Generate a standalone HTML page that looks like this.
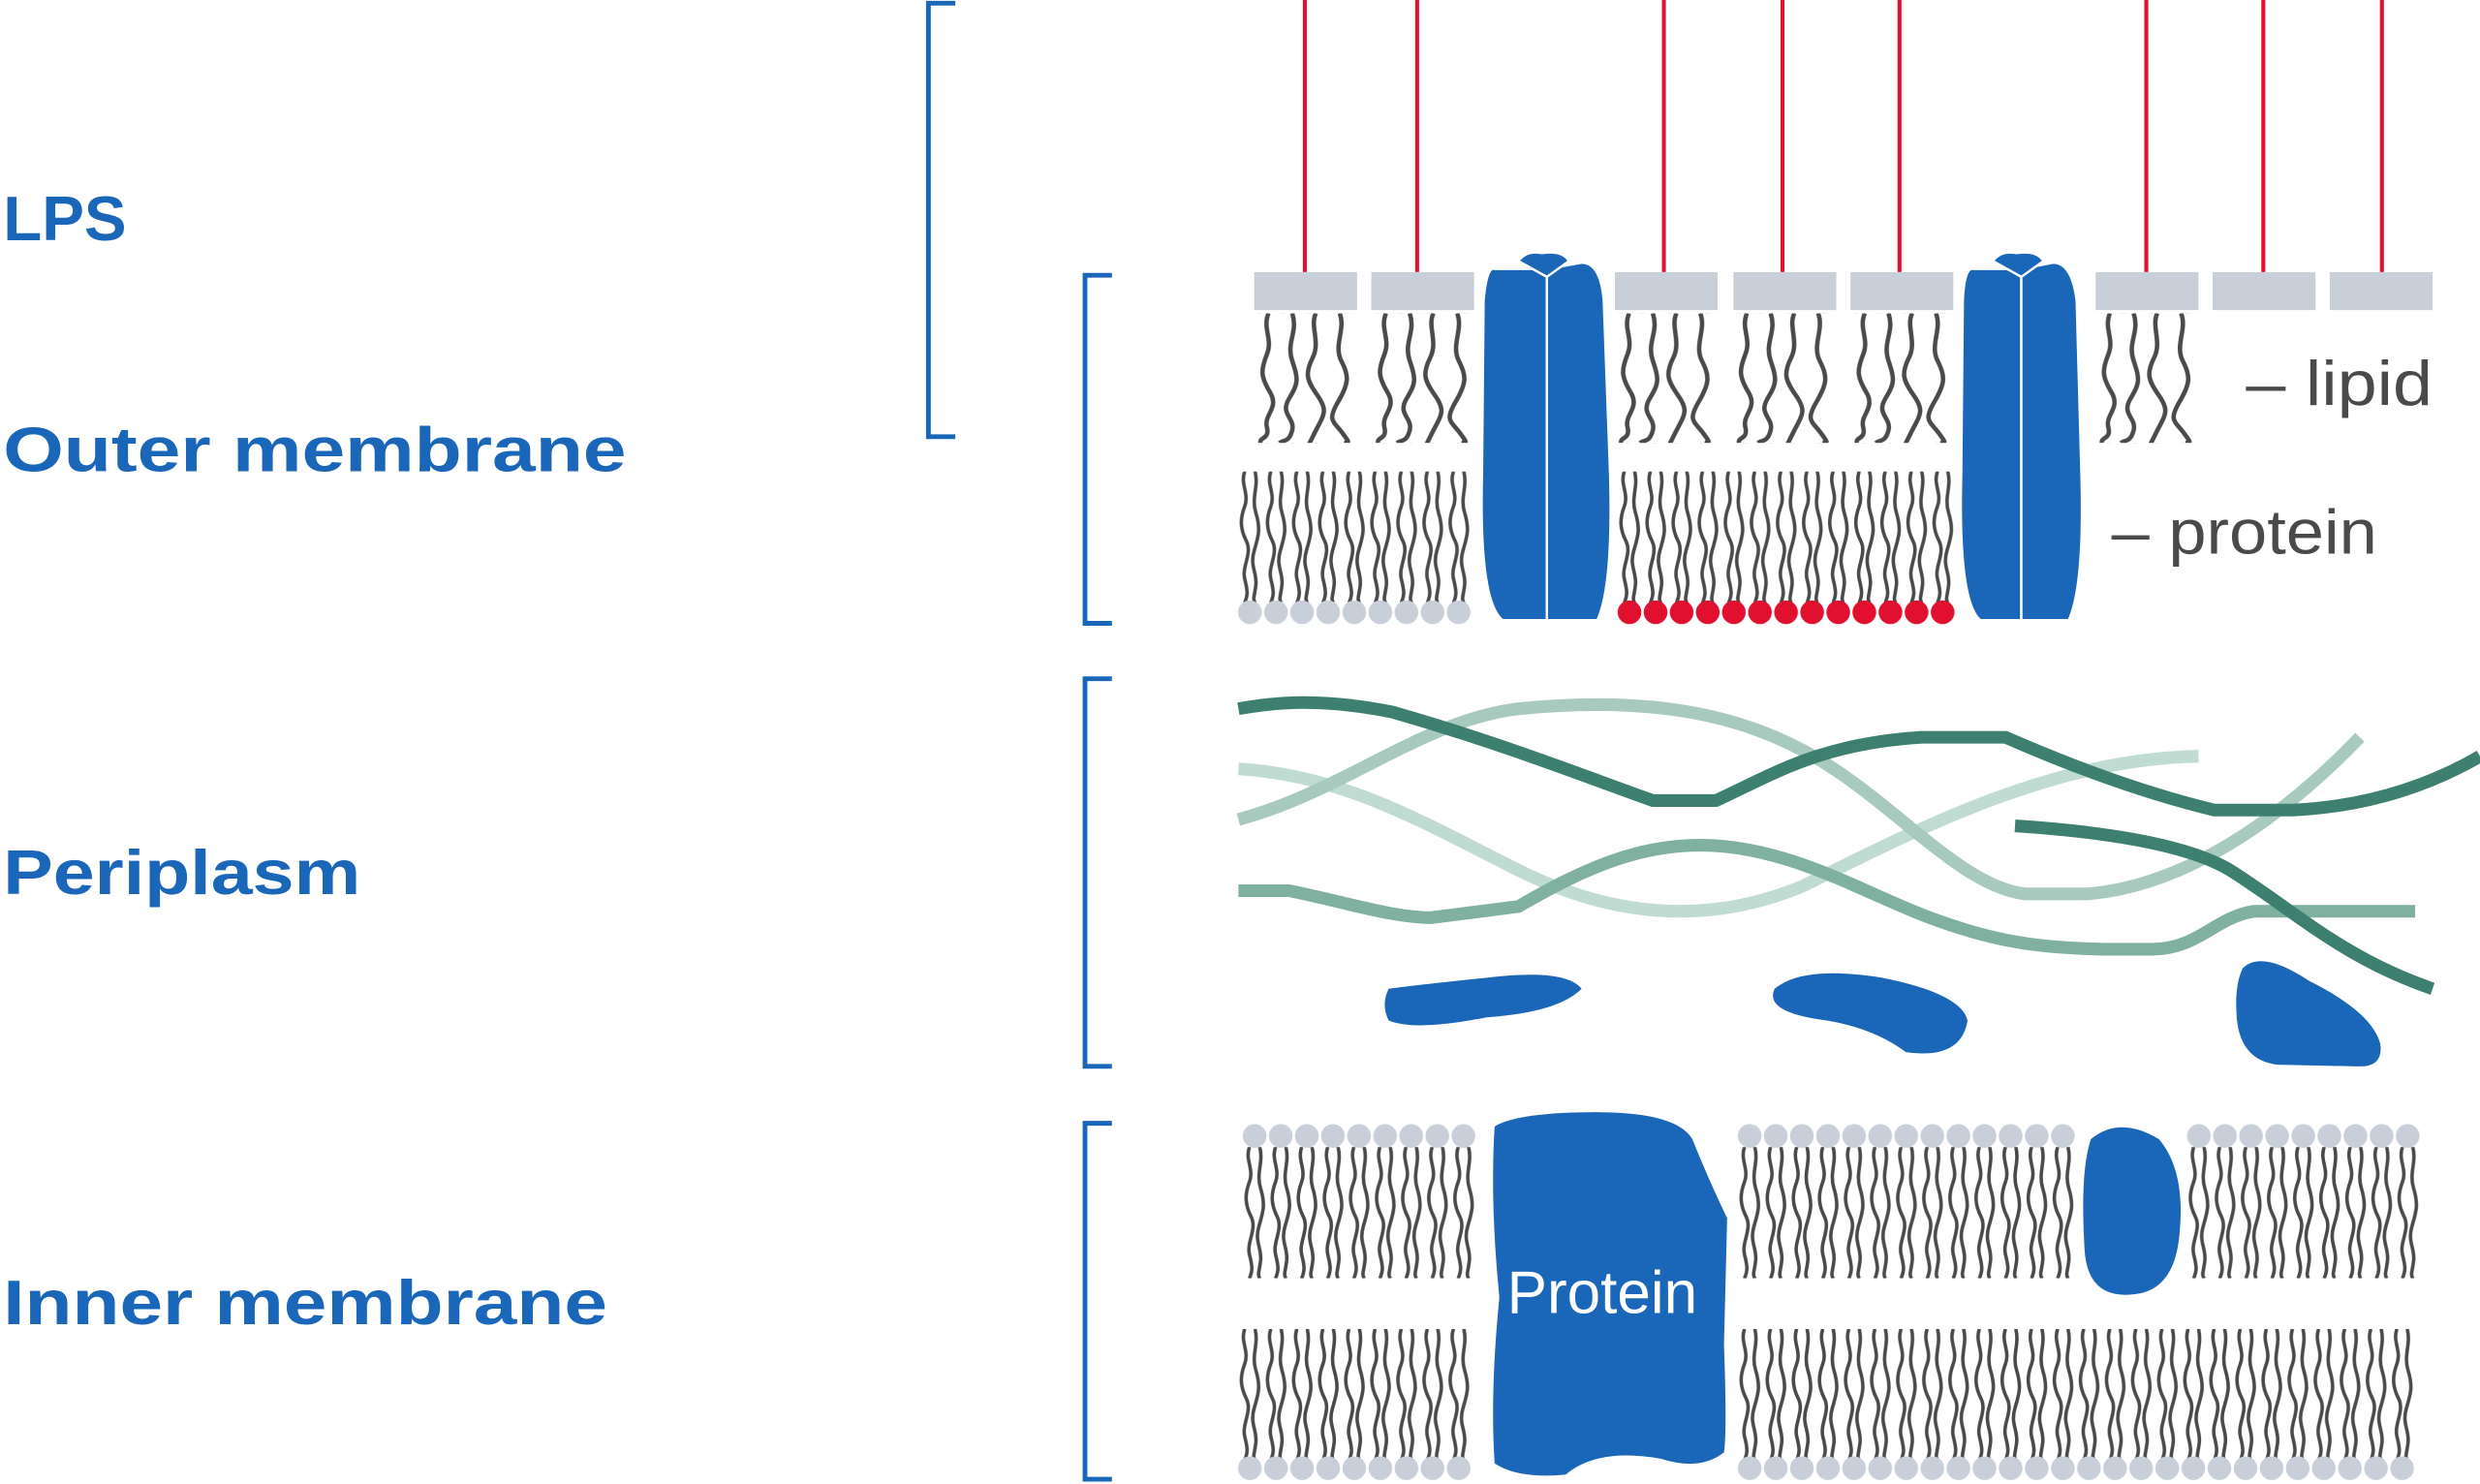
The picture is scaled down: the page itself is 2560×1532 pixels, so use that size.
<!DOCTYPE html>
<html><head><meta charset="utf-8"><style>
html,body{margin:0;padding:0;background:#fff;width:2560px;height:1532px;overflow:hidden}
svg{display:block}
</style></head><body>
<svg width="2560" height="1532" viewBox="0 0 1568 938" preserveAspectRatio="none" xmlns="http://www.w3.org/2000/svg">
<defs>
<g id="lpst" fill="none" stroke="#4a4a4a" stroke-width="2.8">
<path d="M9 0 C5 10 12 16 8 26 S4 40 10 50 S6 64 8 72 S3 78 4 82"/>
<path d="M24 0 C28 12 20 18 24 30 S28 44 22 54 S26 66 24 74 S18 80 16 82"/>
<path d="M39 0 C35 8 42 18 37 28 S33 42 40 52 S44 64 38 76 S36 80 35 82"/>
<path d="M54 0 C58 10 50 20 55 30 S60 44 53 56 S50 68 56 76 S58 80 58 82"/>
</g>
<pattern id="lps" patternUnits="userSpaceOnUse" x="793" y="198" width="74.3" height="82"><use href="#lpst"/></pattern>
<pattern id="lps2" patternUnits="userSpaceOnUse" x="1021" y="198" width="74.5" height="82"><use href="#lpst"/></pattern>
<pattern id="lps3" patternUnits="userSpaceOnUse" x="1325" y="198" width="74.5" height="82"><use href="#lpst"/></pattern>
<g id="tl"><path d="M5 0 C2 8 8 14 5 22 S2 36 6 44 S3 60 5 68 S7 78 5 83"/><path d="M11.5 0 C14 10 9 16 12 26 S14 40 11 50 S13 64 12 72 S10 80 11.5 83"/></g>
<pattern id="t1" patternUnits="userSpaceOnUse" x="782" y="298" width="16.5" height="83"><g fill="none" stroke="#4a4a4a" stroke-width="2.2"><use href="#tl"/></g></pattern>
<pattern id="t2" patternUnits="userSpaceOnUse" x="1022" y="298" width="16.5" height="83"><g fill="none" stroke="#4a4a4a" stroke-width="2.2"><use href="#tl"/></g></pattern>
<pattern id="t3" patternUnits="userSpaceOnUse" x="785" y="725" width="16.5" height="83"><g fill="none" stroke="#4a4a4a" stroke-width="2.2"><use href="#tl"/></g></pattern>
<pattern id="t4" patternUnits="userSpaceOnUse" x="1098" y="725" width="16.5" height="83"><g fill="none" stroke="#4a4a4a" stroke-width="2.2"><use href="#tl"/></g></pattern>
<pattern id="t5" patternUnits="userSpaceOnUse" x="1382" y="725" width="16.5" height="83"><g fill="none" stroke="#4a4a4a" stroke-width="2.2"><use href="#tl"/></g></pattern>
<pattern id="t6" patternUnits="userSpaceOnUse" x="782" y="840" width="16.5" height="83"><g fill="none" stroke="#4a4a4a" stroke-width="2.2"><use href="#tl"/></g></pattern>
<pattern id="t7" patternUnits="userSpaceOnUse" x="1098" y="840" width="16.5" height="83"><g fill="none" stroke="#4a4a4a" stroke-width="2.2"><use href="#tl"/></g></pattern>
<pattern id="h1" patternUnits="userSpaceOnUse" x="782" y="379" width="16.5" height="16"><circle cx="8.25" cy="8" r="7.5" fill="#c8cfd8"/></pattern>
<pattern id="h2" patternUnits="userSpaceOnUse" x="1022" y="379" width="16.5" height="16"><circle cx="8.25" cy="8" r="7.5" fill="#e0102e"/></pattern>
<pattern id="h3" patternUnits="userSpaceOnUse" x="785" y="710" width="16.5" height="16"><circle cx="8.25" cy="8" r="7.5" fill="#c8cfd8"/></pattern>
<pattern id="h4" patternUnits="userSpaceOnUse" x="1098" y="710" width="16.5" height="16"><circle cx="8.25" cy="8" r="7.5" fill="#c8cfd8"/></pattern>
<pattern id="h5" patternUnits="userSpaceOnUse" x="1382" y="710" width="16.5" height="16"><circle cx="8.25" cy="8" r="7.5" fill="#c8cfd8"/></pattern>
<pattern id="h6" patternUnits="userSpaceOnUse" x="782" y="920" width="16.5" height="16"><circle cx="8.25" cy="8" r="7.5" fill="#c8cfd8"/></pattern>
<pattern id="h7" patternUnits="userSpaceOnUse" x="1098" y="920" width="16.5" height="16"><circle cx="8.25" cy="8" r="7.5" fill="#c8cfd8"/></pattern>
</defs>
<g font-family="Liberation Sans, Arial, sans-serif" font-weight="bold" fill="#1a66b8" font-size="40">
<text x="2" y="152" textLength="78" lengthAdjust="spacingAndGlyphs">LPS</text>
<text x="2" y="298" textLength="394" lengthAdjust="spacingAndGlyphs">Outer membrane</text>
<text x="2" y="565" textLength="226" lengthAdjust="spacingAndGlyphs">Periplasm</text>
<text x="2" y="837" textLength="382" lengthAdjust="spacingAndGlyphs">Inner membrane</text>
</g>
<g fill="none" stroke="#1a66b8" stroke-width="3">
<path d="M604 2H587V276H604"/>
<path d="M703 174H686V394H703"/>
<path d="M703 429H686V674H703"/>
<path d="M703 710H686V935H703"/>
</g>
<g stroke="#e0102e" stroke-width="2.5">
<line x1="825" y1="0" x2="825" y2="172"/><line x1="896" y1="0" x2="896" y2="172"/>
<line x1="1052" y1="0" x2="1052" y2="172"/><line x1="1127" y1="0" x2="1127" y2="172"/>
<line x1="1201" y1="0" x2="1201" y2="172"/><line x1="1357" y1="0" x2="1357" y2="172"/>
<line x1="1431" y1="0" x2="1431" y2="172"/><line x1="1506" y1="0" x2="1506" y2="172"/>
</g>
<g fill="#c8cfd8">
<rect x="793" y="172" width="65" height="24"/><rect x="867" y="172" width="65" height="24"/>
<rect x="1021" y="172" width="65" height="24"/><rect x="1096" y="172" width="65" height="24"/>
<rect x="1170" y="172" width="65" height="24"/><rect x="1325" y="172" width="65" height="24"/>
<rect x="1399" y="172" width="65" height="24"/><rect x="1473" y="172" width="65" height="24"/>
</g>
<rect x="793" y="198" width="146" height="82" fill="url(#lps)"/>
<rect x="1021" y="198" width="218" height="82" fill="url(#lps2)"/>
<rect x="1325" y="198" width="65" height="82" fill="url(#lps3)"/>
<rect x="782" y="298" width="148.5" height="83" fill="url(#t1)"/>
<rect x="1022" y="298" width="214.5" height="83" fill="url(#t2)"/>
<rect x="782" y="379" width="148.5" height="16" fill="url(#h1)"/>
<rect x="1022" y="379" width="214.5" height="16" fill="url(#h2)"/>
<rect x="785" y="725" width="148.5" height="83" fill="url(#t3)"/>
<rect x="1098" y="725" width="214.5" height="83" fill="url(#t4)"/>
<rect x="1382" y="725" width="148.5" height="83" fill="url(#t5)"/>
<rect x="785" y="710" width="148.5" height="16" fill="url(#h3)"/>
<rect x="1098" y="710" width="214.5" height="16" fill="url(#h4)"/>
<rect x="1382" y="710" width="148.5" height="16" fill="url(#h5)"/>
<rect x="782" y="840" width="148.5" height="83" fill="url(#t6)"/>
<rect x="1098" y="840" width="429" height="83" fill="url(#t7)"/>
<rect x="782" y="920" width="148.5" height="16" fill="url(#h6)"/>
<rect x="1098" y="920" width="429" height="16" fill="url(#h7)"/>
<g fill="#1a66b8" stroke="#fff" stroke-width="1.5">
<path d="M945 170 Q940 168 938 190 L937 300 Q935 380 950 392 L978 392 L978 170 Z"/>
<path d="M978 170 L978 392 L1010 392 Q1020 370 1018 300 L1014 190 Q1012 166 1000 166 Z"/>
<path d="M960 165 Q965 158 975 160 Q988 158 992 165 L978 175 Z"/>
<path d="M1248 170 Q1242 168 1241 190 L1240 300 Q1238 380 1252 392 L1278 392 L1278 170 Z"/>
<path d="M1278 170 L1278 392 L1308 392 Q1318 370 1316 300 L1313 190 Q1310 166 1298 166 Z"/>
<path d="M1260 165 Q1265 158 1275 160 Q1288 158 1292 165 L1278 175 Z"/>
</g>
<g font-family="Liberation Sans, Arial, sans-serif" fill="#4a4a4a" font-size="40">
<text x="1420" y="256" textLength="118" lengthAdjust="spacingAndGlyphs">– lipid</text>
<text x="1335" y="350" textLength="168" lengthAdjust="spacingAndGlyphs">– protein</text>
</g>
<g fill="none" stroke-width="8">
<path stroke="#c0dcd2" d="M783 486 C850 490 900 520 960 550 C1020 580 1080 585 1140 560 C1220 520 1300 480 1390 478"/>
<path stroke="#a8cabe" d="M783 518 C850 500 900 455 960 448 C1040 440 1100 450 1150 480 C1200 510 1240 560 1280 565 L1320 565 C1380 560 1440 520 1492 466"/>
<path stroke="#3d8070" d="M783 448 C800 445 830 440 880 450 C950 470 1000 490 1045 506 L1085 506 C1120 490 1150 470 1215 466 L1268 466 C1300 480 1350 500 1400 512 L1450 512 C1490 510 1530 500 1568 478"/>
<path stroke="#7fb0a0" d="M783 563 L815 563 C850 570 880 580 905 580 L960 573 C1000 550 1040 530 1090 535 C1140 540 1180 565 1220 580 C1260 595 1290 600 1340 600 L1360 600 C1390 600 1400 580 1425 576 L1527 576"/>
<path stroke="#3d8070" d="M1274 522 C1320 525 1380 532 1410 550 C1450 575 1480 605 1538 625"/>
</g>
<g fill="#1a66b8">
<path d="M878 625 Q900 622 940 618 Q990 612 1000 625 Q985 640 940 643 Q895 652 878 645 Q873 635 878 625Z"/>
<path d="M1122 625 Q1140 610 1190 618 Q1240 628 1244 645 Q1240 670 1205 665 Q1185 650 1155 645 Q1115 640 1122 625Z"/>
<path d="M1418 612 Q1430 600 1460 620 Q1500 640 1505 660 Q1507 675 1490 674 L1440 673 Q1415 670 1414 640 Q1413 622 1418 612Z"/>
<path d="M945 712 Q960 703 1010 703 Q1060 703 1070 720 Q1080 745 1092 770 L1090 850 Q1092 905 1090 918 Q1075 930 1050 922 Q1010 915 990 932 Q960 935 945 925 Q942 880 948 820 Q942 760 945 712Z"/>
<path d="M1322 720 Q1340 705 1365 720 Q1382 740 1378 780 Q1375 815 1350 818 Q1320 822 1318 790 Q1315 740 1322 720Z"/>
</g>
<text x="1013" y="830" text-anchor="middle" font-family="Liberation Sans, Arial, sans-serif" font-size="38" fill="#fff">Protein</text>
</svg>
</body></html>
